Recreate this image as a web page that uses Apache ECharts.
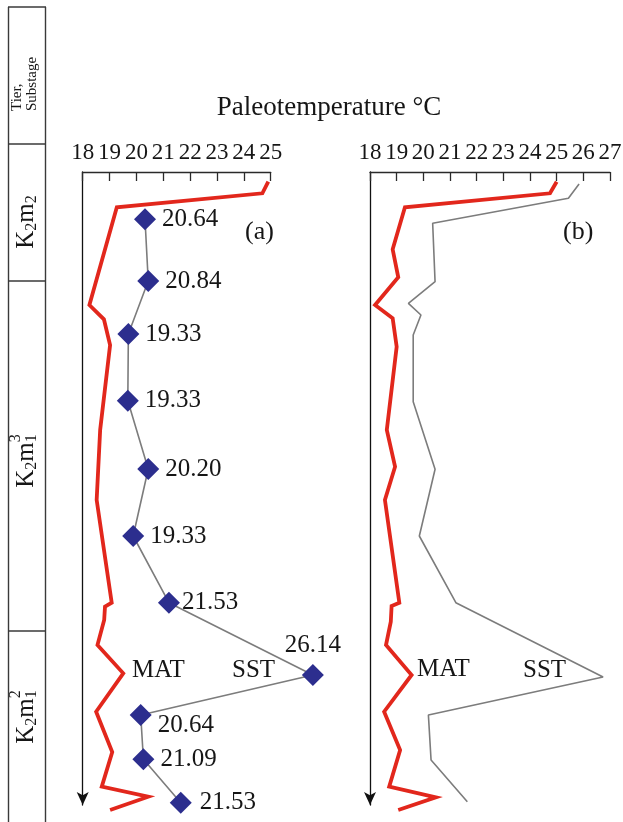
<!DOCTYPE html>
<html>
<head>
<meta charset="utf-8">
<script src="https://cdn.jsdelivr.net/npm/echarts@6/dist/echarts.min.js"></script>
<style>html,body{margin:0;padding:0;background:#fff}#c{width:623px;height:822px}</style>
</head>
<body>
<div id="c"></div>
<script>
// ---------- data (depth: relative units downwards; temperature: °C) ----------
const matA_depth = [0.97, 2.13, 3.53, 13.3, 14.73, 17.3, 25.8, 32.8, 43.07, 43.47, 44.8, 47.3, 50.13, 53.97, 58.0, 61.47, 62.47, 63.8];
const matA_temp  = [24.91, 24.69, 19.27, 18.25, 18.79, 19.02, 18.65, 18.52, 19.08, 18.83, 18.80, 18.55, 19.51, 18.50, 19.10, 18.71, 20.44, 19.02];

const sstA_depth = [4.73, 10.9, 16.2, 22.87, 29.7, 36.4, 43.07, 50.3, 54.3, 58.73, 63.07];
const sstA_temp  = [20.32, 20.44, 19.70, 19.68, 20.44, 19.88, 21.21, 26.57, 20.16, 20.26, 21.65];
const sstA_labels = ['20.64', '20.84', '19.33', '19.33', '20.20', '19.33', '21.53', '26.14', '20.64', '21.09', '21.53'];

const matB_depth = [0.97, 2.13, 3.53, 7.73, 10.53, 13.3, 14.63, 17.47, 25.8, 29.47, 32.8, 43.07, 43.4, 44.97, 47.3, 50.3, 53.97, 57.8, 61.47, 62.53, 63.8];
const matB_temp  = [25.00, 24.75, 19.31, 18.85, 19.06, 18.19, 18.85, 19.00, 18.63, 18.94, 18.56, 19.10, 18.81, 18.78, 18.60, 19.56, 18.53, 19.13, 18.72, 20.47, 19.06];

const sstB_depth = [1.2, 2.63, 5.13, 10.97, 13.13, 14.3, 16.3, 22.97, 29.73, 36.4, 43.07, 50.5, 54.3, 58.8, 62.97];
const sstB_temp  = [25.84, 25.44, 20.35, 20.44, 19.44, 19.91, 19.62, 19.62, 20.44, 19.85, 21.22, 26.74, 20.19, 20.29, 21.65];

// visible axes
const axisA = {min: 18, max: 25, interval: 1};
const axisB = {min: 18, max: 27, interval: 1};
// plotting range (same scale, room for points beyond the drawn axes)
const plotMaxT = 27;
const depthAxisMax = 63.3;
const depthPlotMax = 64;

const titleText = 'Paleotemperature °C';
const panelNames = ['(a)', '(b)'];
const curveNames = ['MAT', 'SST'];

// ---------- styles ----------
const FONT = '"Liberation Serif", "Times New Roman", serif';
const RED = '#e2271c', NAVY = '#2c2e8e', GRAY = '#7c7c7c', AX = '#2a2a2a', TXT = '#161616';

const pairs = (t, d) => t.map((v, i) => [v, d[i]]);

// per-point label tweaks for panel (a)
const labelTweaks = {
  6: {distance: 2},
  7: {position: 'top', distance: 6},
  8: {offset: [0, 10]},
  10: {distance: 8}
};
const sstAData = pairs(sstA_temp, sstA_depth).map((v, i) =>
  labelTweaks[i] ? {value: v, label: labelTweaks[i]} : {value: v});

const ctx = document.createElement('canvas').getContext('2d');
function tw(t, size) { ctx.font = size + 'px ' + FONT; return ctx.measureText(t).width; }
function txt(t, size, x, y, align, valign, extra) {
  return {
    type: 'text', x: x, y: y, silent: true,
    style: Object.assign({text: t, fontSize: size, fontFamily: FONT, fill: TXT,
      align: align, verticalAlign: valign, textAlign: align, textVerticalAlign: valign}, extra || {})
  };
}
function stageLabel(cx, cy, sub2, sub1, sup) {
  const B = 25, S = 16;
  const wK = tw('K', B), w2 = tw(sub2, S), wm = tw('m', B), w1 = tw(sub1, S);
  let x = -(wK + w2 + wm + w1) / 2;
  const kids = [];
  kids.push(txt('K', B, x, 0, 'left', 'middle')); x += wK;
  kids.push(txt(sub2, S, x, 6, 'left', 'middle')); x += w2;
  kids.push(txt('m', B, x, 0, 'left', 'middle')); x += wm;
  kids.push(txt(sub1, S, x, 6, 'left', 'middle'));
  if (sup) kids.push(txt(sup, S, x, -10, 'left', 'middle'));
  return {type: 'group', x: cx, y: cy, rotation: Math.PI / 2, children: kids};
}
function hline(x1, x2, y) {
  return {type: 'line', silent: true, shape: {x1: x1, y1: y, x2: x2, y2: y}, style: {stroke: '#3a3a3a', lineWidth: 1.4}};
}
function vline(x, y1, y2) {
  return {type: 'line', silent: true, shape: {x1: x, y1: y1, x2: x, y2: y2}, style: {stroke: '#3a3a3a', lineWidth: 1.4}};
}

const PX_A = 188 / (axisA.max - axisA.min);   // pixels per °C, panel (a)
const PX_B = 240 / (axisB.max - axisB.min);   // pixels per °C, panel (b)
const PX_D = 633 / depthAxisMax;              // pixels per depth unit

function visX(idx, ax) {
  return {
    gridIndex: idx, type: 'value', position: 'top', min: ax.min, max: ax.max, interval: ax.interval,
    axisLine: {show: true, onZero: false, lineStyle: {color: AX, width: 1.3}},
    axisTick: {show: true, inside: true, length: 9, lineStyle: {color: AX, width: 1.3}},
    axisLabel: {show: true, margin: 8, fontSize: 23, fontFamily: FONT, color: TXT, interval: 0,
      showMinLabel: true, showMaxLabel: true},
    splitLine: {show: false}
  };
}
function visY(idx) {
  return {
    gridIndex: idx, type: 'value', inverse: true, min: 0, max: depthAxisMax,
    axisLine: {show: true, onZero: false, symbol: ['arrow', 'none'], symbolSize: [9, 13],
      lineStyle: {color: '#111', width: 1.3}},
    axisTick: {show: false}, axisLabel: {show: false}, splitLine: {show: false}
  };
}
function hidX(idx, min, max) {
  return {gridIndex: idx, type: 'value', min: min, max: max, show: false,
    axisLine: {show: false}, axisTick: {show: false}, axisLabel: {show: false}, splitLine: {show: false}};
}
function hidY(idx) {
  return {gridIndex: idx, type: 'value', inverse: true, min: 0, max: depthPlotMax, show: false,
    axisLine: {show: false}, axisTick: {show: false}, axisLabel: {show: false}, splitLine: {show: false}};
}

const G = {containLabel: false, outerBoundsMode: 'none'};
const chart = echarts.init(document.getElementById('c'), null, {renderer: 'canvas'});
chart.setOption({
  animation: false,
  backgroundColor: '#fff',
  grid: [
    Object.assign({left: 82.7, top: 172, width: 188, height: 633}, G),                               // 0 visible axes (a)
    Object.assign({left: 370, top: 172, width: 240, height: 633}, G),                                // 1 visible axes (b)
    Object.assign({left: 82.7, top: 172, width: PX_A * (plotMaxT - axisA.min), height: PX_D * depthPlotMax}, G), // 2 data (a)
    Object.assign({left: 370, top: 172, width: PX_B * (plotMaxT - axisB.min), height: PX_D * depthPlotMax}, G)   // 3 data (b)
  ],
  xAxis: [visX(0, axisA), visX(1, axisB), hidX(2, axisA.min, plotMaxT), hidX(3, axisB.min, plotMaxT)],
  yAxis: [visY(0), visY(1), hidY(2), hidY(3)],
  series: [
    {type: 'line', name: 'MAT (a)', xAxisIndex: 2, yAxisIndex: 2, data: pairs(matA_temp, matA_depth),
      symbol: 'none', clip: false, z: 2, silent: true,
      lineStyle: {color: RED, width: 3.8, join: 'miter'}},
    {type: 'line', name: 'SST (a)', xAxisIndex: 2, yAxisIndex: 2, data: sstAData,
      symbol: 'diamond', symbolSize: 22, clip: false, z: 3, silent: true,
      itemStyle: {color: NAVY},
      lineStyle: {color: GRAY, width: 1.6},
      label: {show: true, position: 'right', distance: 6, fontSize: 25, fontFamily: FONT, color: TXT,
        formatter: p => sstA_labels[p.dataIndex]}},
    {type: 'line', name: 'MAT (b)', xAxisIndex: 3, yAxisIndex: 3, data: pairs(matB_temp, matB_depth),
      symbol: 'none', clip: false, z: 2, silent: true,
      lineStyle: {color: RED, width: 3.8, join: 'miter'}},
    {type: 'line', name: 'SST (b)', xAxisIndex: 3, yAxisIndex: 3, data: pairs(sstB_temp, sstB_depth),
      symbol: 'none', clip: false, z: 2, silent: true,
      lineStyle: {color: GRAY, width: 1.6}}
  ],
  graphic: [
    // stratigraphic column
    vline(8.5, 7, 822), vline(45.5, 7, 822),
    hline(8, 46, 7), hline(8, 46, 144), hline(8, 46, 281), hline(8, 46, 631),
    {type: 'group', x: 25, y: 111, rotation: Math.PI / 2, children: [
      txt('Tier,\nSubstage', 15, 0, 0, 'left', 'middle', {lineHeight: 15})
    ]},
    stageLabel(26, 222, '2', '2', null),
    stageLabel(26, 461, '2', '1', '3'),
    stageLabel(26, 717, '2', '1', '2'),
    // titles and annotations
    txt(titleText, 27, 329, 108, 'center', 'middle'),
    txt(panelNames[0], 26, 245, 232, 'left', 'middle'),
    txt(panelNames[1], 26, 563, 232, 'left', 'middle'),
    txt(curveNames[0], 25, 132, 670, 'left', 'middle'),
    txt(curveNames[1], 25, 232, 670, 'left', 'middle'),
    txt(curveNames[0], 25, 417, 669, 'left', 'middle'),
    txt(curveNames[1], 25, 523, 670, 'left', 'middle')
  ]
});
</script>
</body>
</html>
